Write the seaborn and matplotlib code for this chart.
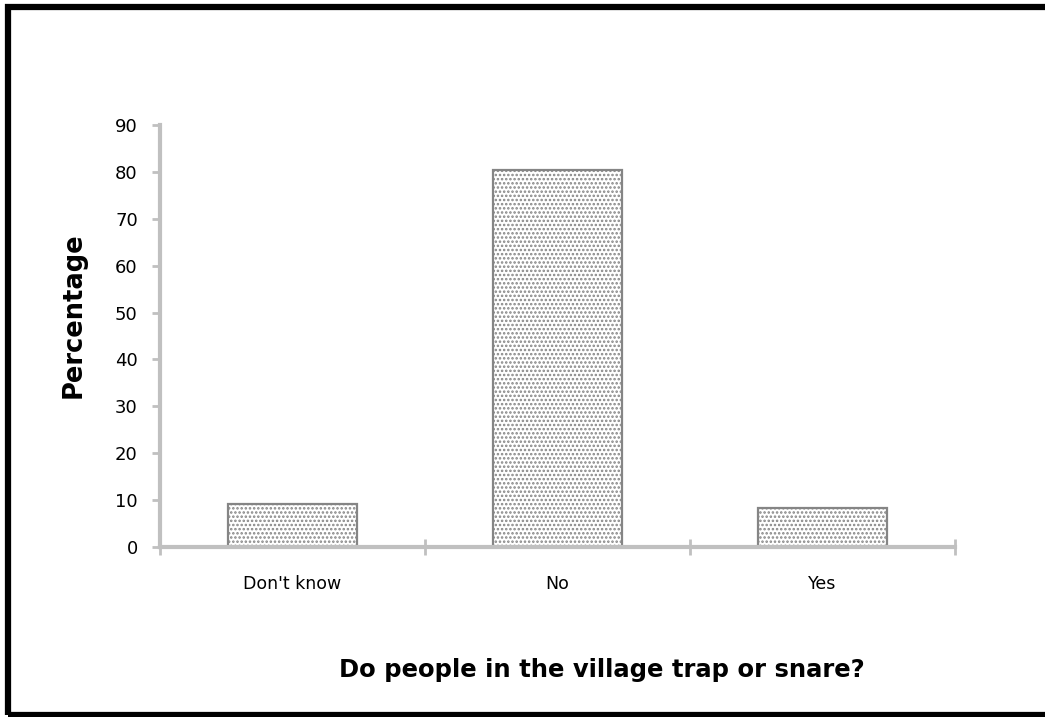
import matplotlib
matplotlib.use("Agg")
import matplotlib.pyplot as plt
import seaborn as sns
import pandas as pd
from matplotlib.patches import Rectangle

categories = ["Don't know", "No", "Yes"]
percentages = [9.1, 80.3, 8.3]
y_ticks = [0, 10, 20, 30, 40, 50, 60, 70, 80, 90]

sns.set_theme(style="white")
plt.rcParams['font.family'] = ['DejaVu Sans']
plt.rcParams['hatch.color'] = '#9a9a9a'
plt.rcParams['hatch.linewidth'] = 1.2
plt.rcParams['text.color'] = 'black'

df = pd.DataFrame({"category": categories, "pct": percentages})

fig = plt.figure(figsize=(10.45, 7.17), dpi=100)
ax = fig.add_axes([160/1045, 1 - 547/717, (955-160)/1045, (547-125)/717])

sns.barplot(data=df, x="category", y="pct", ax=ax, width=0.49,
            color="white", edgecolor="#858585", linewidth=1.6, saturation=1)
for p in ax.patches:
    p.set_hatch('....')

ax.set_xlim(-0.5, 2.5)
ax.set_ylim(0, 90)
ax.set_yticks(y_ticks)
ax.set_yticklabels([str(t) for t in y_ticks], fontsize=13)
ax.set_xticks([0, 1, 2])
ax.set_xticklabels(categories, fontsize=12.5)
# tick marks at category boundaries (Excel style)
ax.set_xticks([-0.5, 0.5, 1.5, 2.5], minor=True)
ax.tick_params(axis='x', which='major', bottom=False, length=0, pad=20, labelcolor='black')
ax.tick_params(axis='x', which='minor', bottom=True, length=12, width=2, direction='inout', color='#c0c0c0')
ax.tick_params(axis='y', which='major', left=True, length=6, width=2, direction='out', color='#c0c0c0', pad=10, labelcolor='black')

for s in ['top', 'right']:
    ax.spines[s].set_visible(False)
for s in ['left', 'bottom']:
    ax.spines[s].set_color('#c0c0c0')
    ax.spines[s].set_linewidth(3)
ax.set_xlabel("")
ax.set_ylabel("")

fig.text(602/1045, 1 - 670/717, "Do people in the village trap or snare?",
         ha='center', va='center', fontsize=17.5, fontweight='bold', color='black')
fig.text(74/1045, 1 - 315/717, "Percentage", ha='center', va='center',
         rotation=90, fontsize=18.5, fontweight='bold', color='black')

# outer frame
fig.patches.append(Rectangle((7.5/1045, 2/717), 1.1, 1 - 9/717, transform=fig.transFigure,
                             fill=False, edgecolor='black', linewidth=4.5, zorder=10))

fig.savefig("out.png", dpi=100, facecolor='white')
